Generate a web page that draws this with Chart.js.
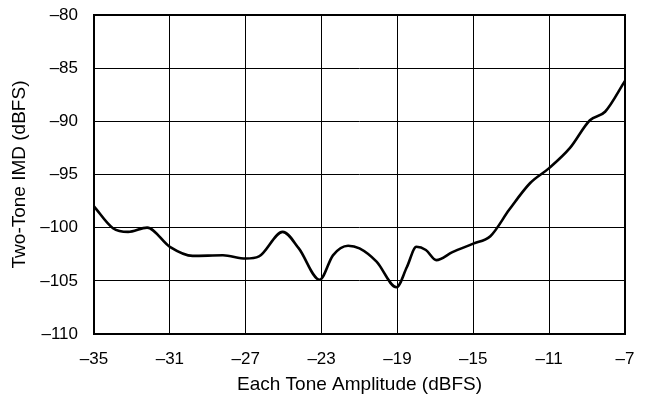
<!DOCTYPE html>
<html>
<head>
<meta charset="utf-8">
<script src="https://cdn.jsdelivr.net/npm/chart.js@4.4.1/dist/chart.umd.min.js"></script>
<style>
    html, body { margin: 0; padding: 0; background: #fff; }
    #wrap { width: 645px; height: 398px; }
</style>
</head>
<body>
<div id="wrap"><canvas id="c" width="645" height="398"></canvas></div>
<script>
// valores (dBFS)
const amplitud = [-35, -34, -33.2, -32.2, -31, -29.8, -28.2, -27, -26.3, -25.05, -24.2, -23.1, -22.4, -21.6, -21, -20.1,
    -19.05, -18.5, -18, -17.5, -16.95, -16.1, -15, -14.1, -13.1, -12, -11, -9.9, -8.85, -8.05, -7];
const imd = [-98, -100.05, -100.4, -100.0, -101.8, -102.65, -102.6, -102.9, -102.7, -100.4, -101.95, -104.9, -102.6, -101.7,
    -101.95, -103.2, -105.6, -103.7, -101.8, -102.1, -103.05, -102.3, -101.5, -100.8, -98.3, -95.8, -94.4, -92.5, -89.9, -89.1, -86.2];
const xTicks = [-35, -31, -27, -23, -19, -15, -11, -7];
const yTicks = [-110, -105, -100, -95, -90, -85, -80];

const familia = '"Liberation Sans", Arial, Helvetica, sans-serif';
const fuenteTicks = { family: familia, size: 17 };
const fuenteTitulo = { family: familia, size: 19 };
const fmt = (v) => String(v).replace('-', '\u2013');

const marco = {
    id: 'marco',
    afterDraw(c) {
        const { ctx, chartArea: a } = c;
        ctx.save();
        ctx.strokeStyle = '#000';
        ctx.lineWidth = 2;
        ctx.strokeRect(a.left, a.top, a.right - a.left, a.bottom - a.top);
        ctx.restore();
    },
};

new Chart(document.getElementById('c'), {
    type: 'line',
    data: {
        datasets: [
            {
                data: amplitud.map((x, i) => ({ x, y: imd[i] })),
                borderColor: '#000',
                borderWidth: 2.6,
                pointRadius: 0,
                fill: false,
                cubicInterpolationMode: 'monotone',
            },
        ],
    },
    options: {
        responsive: false,
        animation: false,
        devicePixelRatio: 1,
        layout: { padding: { top: 15, right: 20, left: 0, bottom: 0 } },
        plugins: { legend: { display: false }, tooltip: { enabled: false } },
        scales: {
            x: {
                type: 'linear',
                min: -35,
                max: -7,
                afterBuildTicks(s) { s.ticks = xTicks.map((v) => ({ value: v })); },
                afterFit(s) {
                    s.height = 64;
                    s.paddingLeft = 0;
                    s.paddingRight = 0;
                },
                grid: { color: '#000', lineWidth: 1, drawTicks: false },
                border: { display: false },
                ticks: { color: '#000', font: fuenteTicks, padding: 15, maxRotation: 0, callback: fmt },
                title: {
                    display: true,
                    text: 'Each Tone Amplitude (dBFS)',
                    color: '#000',
                    font: fuenteTitulo,
                    padding: { top: 0, bottom: 2 },
                },
            },
            y: {
                min: -110,
                max: -80,
                afterBuildTicks(s) { s.ticks = yTicks.map((v) => ({ value: v })); },
                afterFit(s) {
                    s.width = 94;
                    s.paddingTop = 0;
                    s.paddingBottom = 0;
                },
                grid: { color: '#000', lineWidth: 1, drawTicks: false },
                border: { display: false },
                ticks: { color: '#000', font: fuenteTicks, padding: 16, callback: fmt },
                title: {
                    display: true,
                    text: 'Two-Tone IMD (dBFS)',
                    color: '#000',
                    font: fuenteTitulo,
                    padding: { top: 8, bottom: 0 },
                },
            },
        },
    },
    plugins: [marco],
});
</script>
</body>
</html>
